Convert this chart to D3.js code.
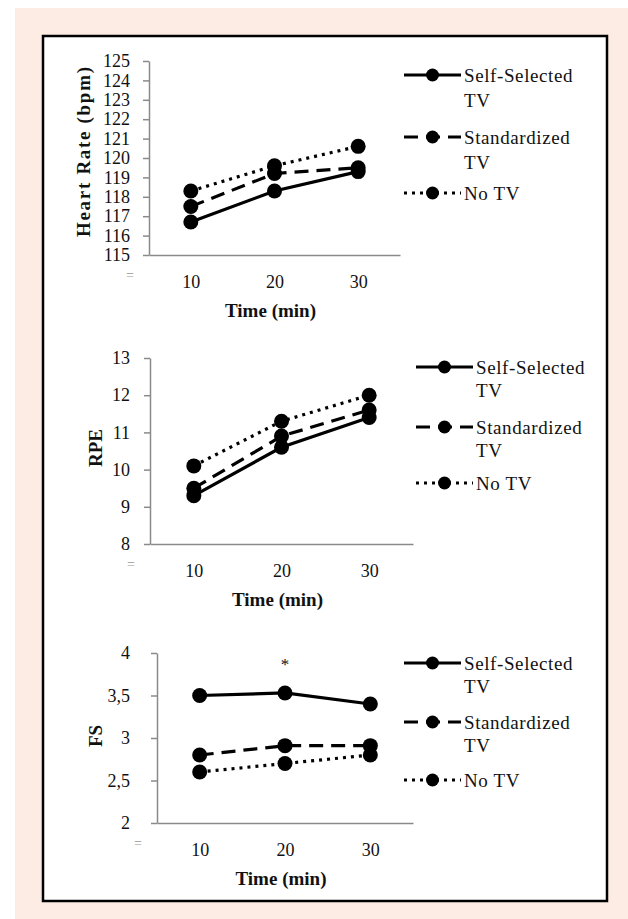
<!DOCTYPE html>
<html>
<head>
<meta charset="utf-8">
<script src="https://cdn.jsdelivr.net/npm/d3@7"></script>
<style>
  body { margin: 0; background: #fff; }
  svg text { font-family: "Liberation Serif", "Times New Roman", Times, "DejaVu Serif", serif; fill: #111; }
</style>
</head>
<body>
<div id="chart"></div>
<script>
const times = [10, 20, 30];
const seriesNames = ["Self-Selected TV", "Standardized TV", "No TV"];

const hrSelf = [116.7, 118.3, 119.3];
const hrStd = [117.5, 119.2, 119.5];
const hrNoTV = [118.3, 119.6, 120.6];
const hrTicks = [115, 116, 117, 118, 119, 120, 121, 122, 123, 124, 125];

const rpeSelf = [9.3, 10.6, 11.4];
const rpeStd = [9.5, 10.9, 11.6];
const rpeNoTV = [10.1, 11.3, 12.0];
const rpeTicks = [8, 9, 10, 11, 12, 13];

const fsSelf = [3.5, 3.53, 3.4];
const fsStd = [2.8, 2.91, 2.91];
const fsNoTV = [2.6, 2.7, 2.8];
const fsTicks = [2, 2.5, 3, 3.5, 4];

const W = 628, H = 919;
const FONT = '"Liberation Serif", "Times New Roman", Times, "DejaVu Serif", serif';
const dashes = ["none", "14,8", "3,5"];
const axisGray = "#8a8a8a";

var svg = d3.select("#chart")
  .append("svg")
    .attr("width", W)
    .attr("height", H)
    .style("font-family", FONT);

// page background + framed box
svg.append("rect").attr("x", 15).attr("y", 8).attr("width", W - 15).attr("height", H - 8).attr("fill", "#fdece3");
svg.append("rect").attr("x", 43).attr("y", 36).attr("width", 564).attr("height", 865)
  .attr("fill", "#fff").attr("stroke", "#000").attr("stroke-width", 2.5);

function drawPanel(p) {
  const x = d3.scalePoint().domain(times).range([p.left, p.right]).padding(0.5);
  const y = d3.scaleLinear().domain(p.domain).range([p.bottom, p.top]);
  const g = svg.append("g");

  // y axis
  const ya = g.append("g")
    .attr("transform", "translate(" + p.left + ",0)")
    .call(d3.axisLeft(y).tickValues(p.ticks).tickSize(6).tickSizeOuter(0)
      .tickPadding(p.pad).tickFormat(p.fmt));
  ya.attr("font-family", null).attr("font-size", null);
  ya.select(".domain").attr("stroke", axisGray).attr("stroke-width", 1.5);
  ya.selectAll(".tick line").attr("stroke", axisGray).attr("stroke-width", 1.5);
  ya.selectAll(".tick text").style("font-family", FONT).attr("font-size", 18).attr("fill", "#111");

  // x axis
  const xa = g.append("g")
    .attr("transform", "translate(0," + p.bottom + ")")
    .call(d3.axisBottom(x).tickSize(0).tickSizeOuter(0).tickPadding(20));
  xa.attr("font-family", null).attr("font-size", null);
  xa.select(".domain").attr("stroke", axisGray).attr("stroke-width", 1.5);
  xa.selectAll(".tick text").style("font-family", FONT).attr("font-size", 18).attr("fill", "#111");

  // little "=" artefact below the origin
  g.append("text")
    .attr("x", p.left - 19).attr("y", p.bottom + 25)
    .attr("text-anchor", "middle").attr("font-size", 14).style("fill", "#999")
    .text("=");

  // axis titles
  g.append("text")
    .attr("x", (p.left + p.right) / 2 - 4).attr("y", p.bottom + 62)
    .attr("text-anchor", "middle").attr("font-size", 19).attr("font-weight", "bold")
    .text("Time (min)");

  const yl = g.append("text")
    .attr("transform", "translate(" + p.ylx + "," + p.yly + ") rotate(-90)")
    .attr("text-anchor", "middle").attr("dy", "0.35em")
    .attr("font-size", 19).attr("font-weight", "bold")
    .text(p.ylabel);
  if (p.ylen) yl.attr("textLength", p.ylen).attr("lengthAdjust", "spacing");

  // lines + markers
  const line = d3.line().x((d, i) => x(times[i])).y(d => y(d));
  p.series.forEach((vals, s) => {
    g.append("path").datum(vals)
      .attr("d", line)
      .attr("fill", "none").attr("stroke", "#000")
      .attr("stroke-width", 3.2)
      .attr("stroke-dasharray", dashes[s]);
  });
  p.series.forEach(vals => {
    g.append("g").selectAll("circle").data(vals).enter().append("circle")
      .attr("cx", (d, i) => x(times[i]))
      .attr("cy", d => y(d))
      .attr("r", 7.5)
      .attr("fill", "#000");
  });

  if (p.star) {
    g.append("text")
      .attr("x", x(p.star)).attr("y", p.top + 17)
      .attr("text-anchor", "middle").attr("font-size", 17)
      .text("*");
  }

  // legend
  const lg = g.append("g");
  seriesNames.forEach((name, s) => {
    const yy = p.legRows[s];
    lg.append("line")
      .attr("x1", p.legX).attr("x2", p.legX + 57)
      .attr("y1", yy).attr("y2", yy)
      .attr("stroke", "#000").attr("stroke-width", 3.2)
      .attr("stroke-dasharray", dashes[s]);
    lg.append("circle")
      .attr("cx", p.legX + 28.5).attr("cy", yy).attr("r", 6.5).attr("fill", "#000");
    const words = name.endsWith(" TV") && name !== "No TV" ? [name.slice(0, -3), "TV"] : [name];
    words.forEach((w, k) => {
      lg.append("text")
        .attr("x", p.legX + 60).attr("y", yy + k * p.legGap)
        .attr("dy", "0.35em").attr("font-size", 19)
        .attr("letter-spacing", 0.6)
        .text(w);
    });
  });
}

drawPanel({
  left: 149, right: 400, top: 61, bottom: 255,
  domain: [115, 125], ticks: hrTicks, pad: 13, fmt: d3.format("d"),
  series: [hrSelf, hrStd, hrNoTV],
  ylabel: "Heart Rate (bpm)", ylx: 83, yly: 152, ylen: 170,
  legX: 404, legRows: [75, 137, 193], legGap: 25
});

drawPanel({
  left: 150, right: 413, top: 358, bottom: 544,
  domain: [8, 13], ticks: rpeTicks, pad: 14, fmt: d3.format("d"),
  series: [rpeSelf, rpeStd, rpeNoTV],
  ylabel: "RPE", ylx: 95, yly: 448,
  legX: 416, legRows: [367, 427, 483], legGap: 23
});

drawPanel({
  left: 157, right: 413, top: 653, bottom: 823,
  domain: [2, 4], ticks: fsTicks, pad: 21, fmt: d => String(d).replace(".", ","),
  series: [fsSelf, fsStd, fsNoTV],
  ylabel: "FS", ylx: 95, yly: 736, star: 20,
  legX: 404, legRows: [663, 722, 780], legGap: 23
});
</script>
</body>
</html>
